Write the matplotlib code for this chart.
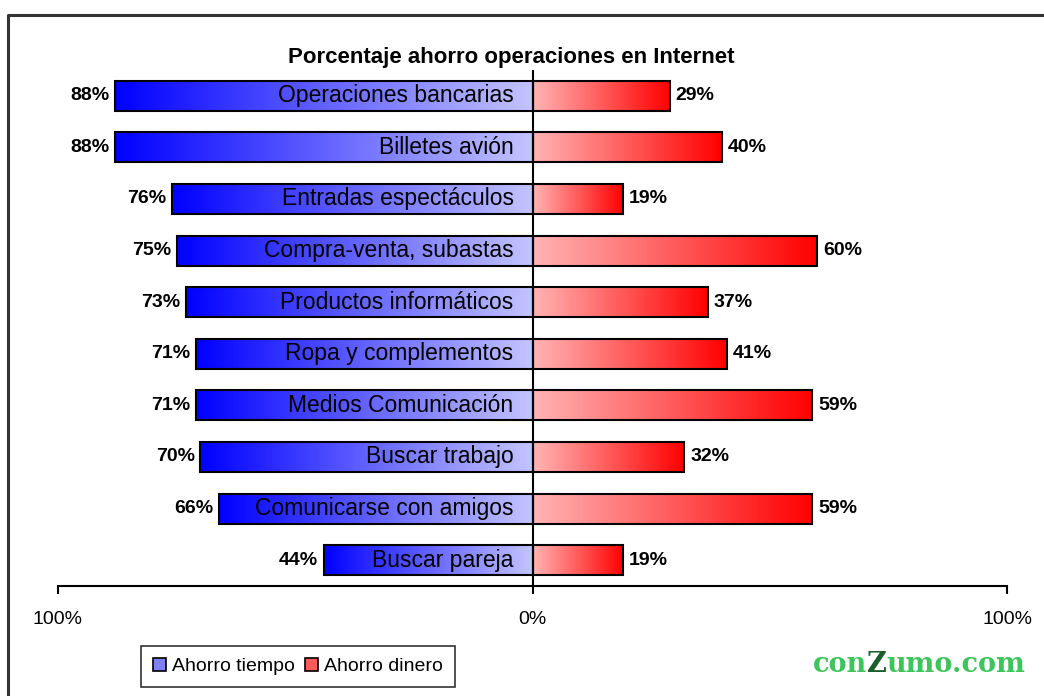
import matplotlib
matplotlib.use("Agg")
import matplotlib.pyplot as plt
import numpy as np
from matplotlib.lines import Line2D
from matplotlib.patches import Patch
from matplotlib.offsetbox import TextArea, HPacker, AnchoredOffsetbox

categories = ["Operaciones bancarias", "Billetes avión", "Entradas espectáculos",
              "Compra-venta, subastas", "Productos informáticos", "Ropa y complementos",
              "Medios Comunicación", "Buscar trabajo", "Comunicarse con amigos",
              "Buscar pareja"]
ahorro_tiempo = [88, 88, 76, 75, 73, 71, 71, 70, 66, 44]
ahorro_dinero = [29, 40, 19, 60, 37, 41, 59, 32, 59, 19]
tick_values = [-100, 0, 100]
tick_labels = ["100%", "0%", "100%"]
title = "Porcentaje ahorro operaciones en Internet"
series_names = ["Ahorro tiempo", "Ahorro dinero"]

SANS = ["Liberation Sans", "DejaVu Sans"]

fig = plt.figure(figsize=(10.44, 6.96), dpi=100)
ax = fig.add_axes([58/1044, 110/696, (1007-58)/1044, (586-70)/696])

y = np.arange(len(categories))
bar_h = 0.58
blue_bars = ax.barh(y, [-v for v in ahorro_tiempo], height=bar_h, facecolor="none",
                    edgecolor="black", linewidth=1.5, zorder=3)
red_bars = ax.barh(y, ahorro_dinero, height=bar_h, facecolor="none",
                   edgecolor="black", linewidth=1.5, zorder=3)

def grad_img(c0, c1, n=256):
    c0 = np.array(matplotlib.colors.to_rgb(c0))
    c1 = np.array(matplotlib.colors.to_rgb(c1))
    t = np.linspace(0, 1, n)[:, None]
    return (c0 + (c1 - c0) * t)[None, :, :]

blue_grad = grad_img("#0000ff", "#c4c4ff")
red_grad = grad_img("#ffb4b4", "#ff0000")

for bars, img in ((blue_bars, blue_grad), (red_bars, red_grad)):
    for p in bars:
        x0, x1 = sorted([p.get_x(), p.get_x() + p.get_width()])
        y0, y1 = sorted([p.get_y(), p.get_y() + p.get_height()])
        ax.imshow(img, extent=[x0, x1, y0, y1], aspect="auto", zorder=2,
                  interpolation="bilinear")

ax.set_xlim(-100, 100)
ax.set_ylim(len(categories) - 0.5, -0.5)
ax.set_aspect("auto")

for i, (c, b, r) in enumerate(zip(categories, ahorro_tiempo, ahorro_dinero)):
    ax.text(-4, i, c, ha="right", va="center", fontsize=16.5, family=SANS, zorder=4)
    ax.text(-b - 1.2, i, f"{b}%", ha="right", va="center", fontsize=14,
            fontweight="bold", family=SANS, zorder=4)
    ax.text(r + 1.2, i, f"{r}%", ha="left", va="center", fontsize=14,
            fontweight="bold", family=SANS, zorder=4)

ax.axvline(0, color="black", linewidth=1.5, zorder=5)

for s in ("top", "right", "left"):
    ax.spines[s].set_visible(False)
ax.spines["bottom"].set_linewidth(1.5)
ax.set_yticks([])
ax.set_xticks(tick_values)
ax.set_xticklabels(tick_labels, fontsize=14, family=SANS)
ax.tick_params(axis="x", direction="out", length=6, width=1.5, pad=12)

fig.text(511/1044, 1 - 57/696, title, ha="center", va="center", fontsize=16,
         fontweight="bold", family=SANS)

handles = [Patch(facecolor="#8080ff", edgecolor="black", linewidth=1.2),
           Patch(facecolor="#ff5a5a", edgecolor="black", linewidth=1.2)]
fig.legend(handles, series_names, loc="lower left",
           bbox_to_anchor=(141/1044, 9/696), bbox_transform=fig.transFigure,
           ncol=2, frameon=True, fancybox=False, edgecolor="black",
           prop={"family": SANS, "size": 14}, handlelength=0.7, handleheight=0.7,
           handletextpad=0.3, columnspacing=0.5, borderpad=0.6, borderaxespad=0)
fig.legends[0].get_frame().set_linewidth(1.2)

tp = dict(family=["DejaVu Serif"], weight="bold", size=19.5)
parts = [TextArea("con", textprops=dict(color="#3dc45a", **tp)),
         TextArea("Z", textprops=dict(color="#1b5e2c", **tp)),
         TextArea("umo.com", textprops=dict(color="#3dc45a", **tp))]
box = HPacker(children=parts, pad=0, sep=0, align="baseline")
ab = AnchoredOffsetbox(loc="center", child=box, pad=0, frameon=False,
                       bbox_to_anchor=(919/1044, 1 - 665/696),
                       bbox_transform=fig.transFigure, borderpad=0)
fig.add_artist(ab)

fx = 8/1044
fy = 1 - 15/696
fig.add_artist(Line2D([fx, fx, 1.0], [0.0, fy, fy], transform=fig.transFigure,
                      color="#333333", linewidth=2.2))

fig.savefig("out.png", dpi=100)
